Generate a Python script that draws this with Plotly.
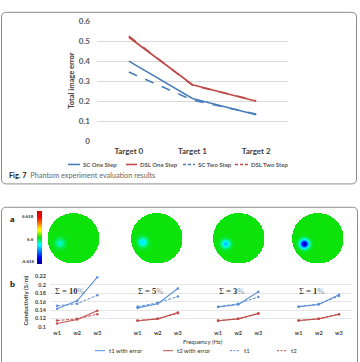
import numpy as np
import plotly.graph_objects as go

W, H = 360, 362
def px(x): return x / W
def py(y): return 1 - y / H

# ---------------- data: top chart ----------------
targets = ["Target 0", "Target 1", "Target 2"]
sc_one = [0.40, 0.213, 0.132]
dsl_one = [0.519, 0.282, 0.199]
sc_two = [0.345, 0.205, 0.135]
dsl_two = [0.525, 0.279, 0.202]
top_yticks = [0, 0.1, 0.2, 0.3, 0.4, 0.5, 0.6]

# ---------------- data: bottom line charts ----------------
freqs = ["w1", "w2", "w3"]
sigma_labels = ["10", "5", "3", "1"]
t1_err = [[0.143, 0.162, 0.218], [0.145, 0.155, 0.191], [0.147, 0.153, 0.1835], [0.148, 0.153, 0.176]]
t2_err = [[0.108, 0.1175, 0.138], [0.1145, 0.119, 0.134], [0.1145, 0.119, 0.132], [0.115, 0.119, 0.130]]
t1_true = [[0.150, 0.155, 0.175], [0.148, 0.157, 0.172], [0.148, 0.155, 0.171], [0.148, 0.154, 0.173]]
t2_true = [[0.115, 0.119, 0.130], [0.115, 0.119, 0.132], [0.115, 0.119, 0.131], [0.115, 0.119, 0.130]]
bottom_yticks = [0.1, 0.12, 0.14, 0.16, 0.18, 0.2, 0.22]

# ---------------- data: reconstruction images ----------------
blob_amp = [-0.0042, -0.0062, -0.0075, -0.0165]
blob_cx = [-0.52, -0.54, -0.50, -0.52]
blob_cy = [-0.19, -0.15, -0.22, -0.22]
blob_sd = [0.13, 0.13, 0.12, 0.12]
cb_min, cb_max = -0.018, 0.018

BLUE = "#4a7ebb"
RED = "#be4b48"
BLUE2 = "#5b8fd6"
RED2 = "#c0504d"
GRID = "#d9d9d9"
TXT = "#595959"
FONT = "Lato"

fig = go.Figure()

# top chart traces
for name, vals, col, dash in [("SC One Step", sc_one, BLUE, "solid"),
                              ("DSL One Step", dsl_one, RED, "solid"),
                              ("SC Two Step", sc_two, BLUE, "dash"),
                              ("DSL Two Step", dsl_two, RED, "dash")]:
    fig.add_trace(go.Scatter(x=targets, y=vals, mode="lines", name=name,
                             line=dict(color=col, width=1.6, dash=dash),
                             xaxis="x", yaxis="y", showlegend=False))

# bottom line chart traces: one trace per group so the groups stay apart
for groups, col, dash, w in [(t1_err, BLUE2, "solid", 1.1), (t2_err, RED2, "solid", 1.1),
                             (t1_true, BLUE2, "dash", 1.0), (t2_true, RED2, "dash", 1.0)]:
    for gi, vals in enumerate(groups):
        fig.add_trace(go.Scatter(x=[gi * 4 + i for i in range(len(vals))], y=vals, mode="lines+markers",
                                 line=dict(color=col, width=w, dash="3px,1.5px" if dash == "dash" else "solid"),
                                 marker=dict(size=2.5, color=col),
                                 xaxis="x2", yaxis="y2", showlegend=False))

# heatmaps
n = 130
g = np.linspace(-1, 1, n)
GX, GY = np.meshgrid(g, g)
mask = GX**2 + GY**2 > 1.0
for k in range(4):
    z = blob_amp[k] * np.exp(-((GX - blob_cx[k])**2 + (GY - blob_cy[k])**2) / (2 * blob_sd[k]**2))
    z = np.where(mask, np.nan, z)
    fig.add_trace(go.Heatmap(z=z, x=g, y=g, coloraxis="coloraxis", zsmooth=False,
                             xaxis=f"x{k+3}", yaxis=f"y{k+3}", hoverinfo="skip"))

layout = dict(
    width=W, height=H, margin=dict(l=0, r=0, t=0, b=0),
    paper_bgcolor="white", plot_bgcolor="white", showlegend=False,
    font=dict(family=FONT, color=TXT),
    xaxis=dict(domain=[px(97), px(288)], type="category", range=[-0.5, 2.5],
               showgrid=False, zeroline=False, showline=False, ticks="",
               tickfont=dict(size=8, color="#404040", family=FONT, weight="bold"),
               ticklabelstandoff=4),
    yaxis=dict(domain=[py(140), py(16.5)], range=[0, 0.6], tickvals=top_yticks,
               ticktext=["0", "0.1", "0.2", "0.3", "0.4", "0.5", "0.6"],
               showgrid=True, gridcolor=GRID, gridwidth=1, zeroline=False, showline=False,
               ticks="", tickfont=dict(size=8, color=TXT, family=FONT, weight="bold"),
               ticklabelstandoff=6),
    xaxis2=dict(domain=[px(50), px(352)], range=[-0.35, 14.65],
                tickvals=[g4 * 4 + i for g4 in range(4) for i in range(3)],
                ticktext=freqs * 4, showgrid=False, zeroline=False, showline=False, ticks="",
                tickfont=dict(size=5.5, color="#404040", family=FONT, weight="bold"),
                ticklabelstandoff=2, anchor="y2"),
    yaxis2=dict(domain=[py(331), py(279)], range=[0.1, 0.22], tickvals=bottom_yticks,
                ticktext=["0.1", "0.12", "0.14", "0.16", "0.18", "0.2", "0.22"],
                showgrid=True, gridcolor="#e6e6e6", gridwidth=1, zeroline=False, showline=False,
                ticks="", tickfont=dict(size=5.5, color="#404040", family=FONT, weight="bold"),
                ticklabelstandoff=3, anchor="x2"),
    coloraxis=dict(cmin=cb_min, cmax=cb_max,
                   colorscale=[[0, "#00008f"], [0.12, "#0000ff"], [0.36, "#00ffff"],
                               [0.5, "#0be30b"], [0.64, "#ffff00"], [0.88, "#ff0000"], [1, "#d00000"]],
                   colorbar=dict(x=px(37), xanchor="left", y=py(239.5), yanchor="middle",
                                 len=53, lenmode="pixels", thickness=5, thicknessmode="pixels",
                                 xpad=0, ypad=0, outlinewidth=0, showticklabels=False, ticks="")),
)
centers = [73.5, 157, 239, 318]
R = 26
for k, c in enumerate(centers):
    layout[f"xaxis{k+3}"] = dict(domain=[px(c - R), px(c + R)], range=[-1, 1], visible=False,
                                 anchor=f"y{k+3}")
    layout[f"yaxis{k+3}"] = dict(domain=[py(240 + R), py(240 - R)], range=[-1, 1], visible=False,
                                 anchor=f"x{k+3}")
fig.update_layout(**layout)

ann = []
def A(x, y, text, size, color="#404040", family=FONT, xanchor="center", yanchor="middle", angle=0, xref="paper", yref="paper"):
    ann.append(dict(x=x, y=y, xref=xref, yref=yref, text=text, showarrow=False, textangle=angle,
                    font=dict(size=size, color=color, family=family), xanchor=xanchor, yanchor=yanchor))

# top chart texts
A(px(72), py(78), "<b>Total image error</b>", 7.5, angle=-90)
A(px(7), py(175.5), "<b>Fig. 7</b>  <span style='color:#666'>Phantom experiment evaluation results</span>", 7.3,
  color="#222", xanchor="left")

# top legend (manual)
top_leg = [("SC One Step", BLUE, "solid", 68, 80), ("DSL One Step", RED, "solid", 126, 137),
           ("SC Two Step", BLUE, "dash", 183, 195), ("DSL Two Step", RED, "dash", 235, 248)]
shapes = []
for name, col, dash, x0, x1 in top_leg:
    shapes.append(dict(type="line", xref="paper", yref="paper", x0=px(x0), x1=px(x1), y0=py(164), y1=py(164),
                       line=dict(color=col, width=1.6, dash="3px,2px" if dash == "dash" else "solid")))
    A(px(x1 + 1), py(164), f"<b>{name}</b>", 6, color=TXT, xanchor="left")

# bottom panel texts
A(px(13), py(220), "<b>a</b>", 9, color="#111", family="Liberation Serif")
A(px(13), py(287), "<b>b</b>", 9, color="#111", family="Liberation Serif")
A(px(35.5), py(218), "<b>0.018</b>", 5, xanchor="right", family="Liberation Serif", color="#333")
A(px(35.5), py(241), "<b>0.0</b>", 5, xanchor="right", family="Liberation Serif", color="#333")
A(px(35.5), py(264), "<b>-0.018</b>", 5, xanchor="right", family="Liberation Serif", color="#333")
A(px(26), py(304), "<b>Conductivity (S/m)</b>", 6, angle=-90)
A(px(203), py(346.5), "Frequency (Hz)", 6, color="#333")
for k, s in enumerate(sigma_labels):
    A(k * 4 + 0.65, 0.1855, f"Σ = <b>{s}</b><span style='color:#888'>%</span>", 8.5, color="#333",
      family="Liberation Serif", xref="x2", yref="y2")

bot_leg = [("t1 with error", BLUE2, "solid", 95, 105), ("t2 with error", RED2, "solid", 163, 173),
           ("t1", BLUE2, "dash", 230, 240), ("t2", RED2, "dash", 277, 287)]
for name, col, dash, x0, x1 in bot_leg:
    shapes.append(dict(type="line", xref="paper", yref="paper", x0=px(x0), x1=px(x1), y0=py(355.5), y1=py(355.5),
                       line=dict(color=col, width=1, dash="2px,1.5px" if dash == "dash" else "solid")))
    A(px(x1 + 2), py(355.5), name, 6, color="#333", xanchor="left")

# rounded frames
def rounded(x0, y0, x1, y1, r):
    X = lambda v: f"{px(v):.5f}"
    Y = lambda v: f"{py(v):.5f}"
    return (f"M {X(x0)},{Y(y0 + r)} Q {X(x0)},{Y(y0)} {X(x0 + r)},{Y(y0)} "
            f"L {X(x1 - r)},{Y(y0)} Q {X(x1)},{Y(y0)} {X(x1)},{Y(y0 + r)} "
            f"L {X(x1)},{Y(y1 - r)} Q {X(x1)},{Y(y1)} {X(x1 - r)},{Y(y1)} "
            f"L {X(x0 + r)},{Y(y1)} Q {X(x0)},{Y(y1)} {X(x0)},{Y(y1 - r)} Z")

shapes.append(dict(type="path", xref="paper", yref="paper", path=rounded(1.5, 7.5, 356.5, 184, 5),
                   line=dict(color="#8c8c8c", width=1)))
shapes.append(dict(type="path", xref="paper", yref="paper", path=rounded(1.5, 208, 357.5, 375, 5),
                   line=dict(color="#8c8c8c", width=1)))

fig.update_layout(annotations=ann, shapes=shapes)
fig.write_html("out.html")
